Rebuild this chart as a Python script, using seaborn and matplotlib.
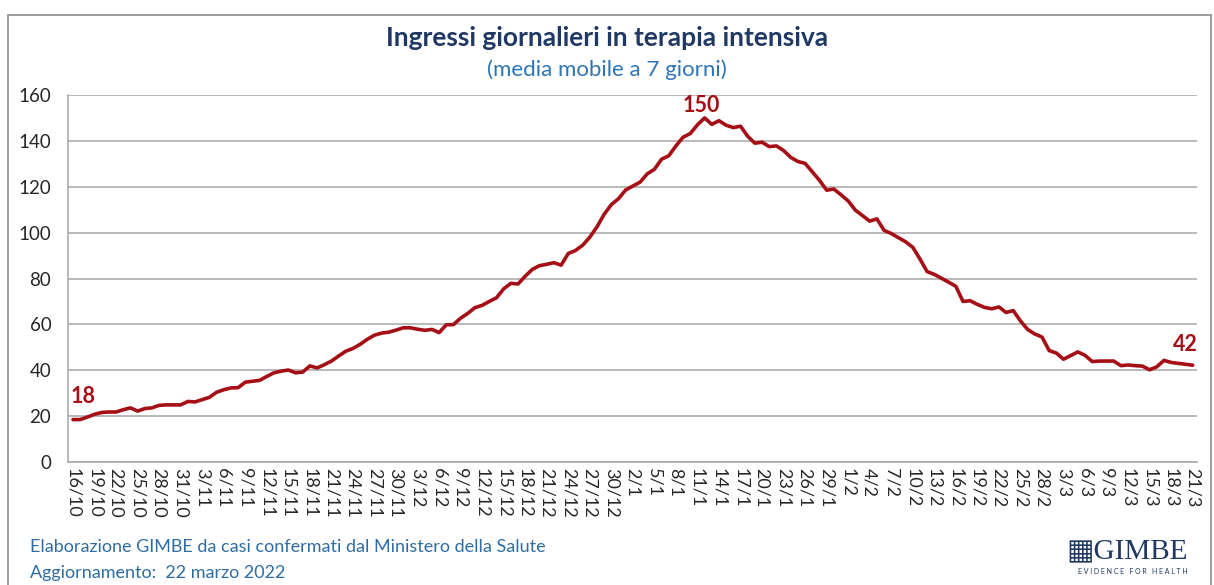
import numpy as np
import pandas as pd
import matplotlib.pyplot as plt
import seaborn as sns
from matplotlib.patches import Rectangle

# giorni dal 16/10/2021 al 21/3/2022
dates = pd.date_range("2021-10-16", "2022-03-21", freq="D")
day_labels = [f"{d.day}/{d.month}" for d in dates]

# ingressi giornalieri in terapia intensiva, media mobile 7 giorni
ingressi = [
    18.5, 18.5, 19.6, 20.8, 21.6, 21.8, 21.8, 22.8, 23.6, 22.2,
    23.3, 23.6, 24.7, 24.9, 24.9, 24.9, 26.4, 26.2, 27.2, 28.2,
    30.4, 31.5, 32.3, 32.4, 34.8, 35.2, 35.6, 37.3, 38.9, 39.6,
    40.1, 38.9, 39.2, 41.9, 41.0, 42.4, 44.0, 46.2, 48.3, 49.5,
    51.3, 53.5, 55.3, 56.2, 56.6, 57.5, 58.5, 58.5, 57.9, 57.4,
    57.8, 56.4, 59.8, 59.9, 62.7, 64.8, 67.3, 68.3, 70.0, 71.6,
    75.5, 77.9, 77.6, 81.0, 84.0, 85.6, 86.2, 86.9, 85.8, 90.9,
    92.2, 94.5, 98.0, 102.5, 108.0, 112.2, 114.8, 118.6, 120.3, 122.0,
    125.6, 127.6, 132.0, 133.5, 137.8, 141.6, 143.2, 147.0, 150.0, 147.2,
    148.8, 146.8, 145.8, 146.4, 142.0, 139.0, 139.4, 137.5, 137.8, 135.8,
    132.8, 131.0, 130.2, 126.5, 122.8, 118.5, 119.0, 116.5, 113.8, 109.8,
    107.4, 105.0, 106.0, 101.0, 99.6, 97.8, 96.0, 93.6, 88.5, 83.0,
    81.8, 80.1, 78.4, 76.6, 70.0, 70.3, 68.7, 67.4, 66.8, 67.6,
    65.2, 66.0, 61.5, 57.8, 55.8, 54.5, 48.6, 47.5, 44.8, 46.4,
    48.0, 46.5, 43.8, 44.0, 44.0, 44.0, 42.0, 42.3, 42.0, 41.8,
    40.2, 41.5, 44.3, 43.4, 43.0, 42.6, 42.2,
]

# etichette evidenziate: (indice giorno, testo)
highlights = [(0, "18"), (88, "150"), (156, "42")]

df = pd.DataFrame({"giorno": np.arange(len(ingressi)), "ingressi": ingressi})

red = "#A50F15"
sns.set_style("white")
plt.rcParams["font.family"] = ["Lato", "DejaVu Sans"]

fig = plt.figure(figsize=(12.14, 5.85), dpi=100)
ax = fig.add_axes([68 / 1214, 1 - 462 / 585, (1197 - 68) / 1214, (462 - 95) / 585])

sns.lineplot(data=df, x="giorno", y="ingressi", ax=ax, color=red, linewidth=2.6)

ax.set_ylim(0, 160)
ax.set_xlim(-0.7, 156.6)
ax.set_yticks(range(0, 161, 20))
ax.yaxis.grid(True, color="#A6A6A6", linewidth=1.1)
ax.set_axisbelow(True)
ax.tick_params(axis="y", labelsize=13.5, pad=12, length=0)
ticks = list(range(0, len(day_labels), 3))
ax.set_xticks(ticks)
ax.set_xticklabels([day_labels[i] for i in ticks], rotation=-90, fontsize=13)
ax.tick_params(axis="x", length=0, pad=4)
ax.set_xlabel("")
ax.set_ylabel("")
for s in ["top", "right"]:
    ax.spines[s].set_visible(False)
for s in ["left", "bottom"]:
    ax.spines[s].set_color("#A6A6A6")
    ax.spines[s].set_linewidth(1.1)

last = len(ingressi) - 1
for i, txt in highlights:
    if i == 0:
        ha, xo, yo = "left", -0.4, 5.5
    elif i == last:
        ha, xo, yo = "right", 0.7, 4.5
    else:
        ha, xo, yo = "center", -0.5, 0.8
    ax.text(i + xo, ingressi[i] + yo, txt, color=red, fontsize=15.5,
            fontweight="bold", ha=ha, va="bottom")

fig.text(0.5, 1 - 38 / 585, "Ingressi giornalieri in terapia intensiva",
         ha="center", va="center", fontsize=19, fontweight="bold", color="#1F3864")
fig.text(0.5, 1 - 70 / 585, "(media mobile a 7 giorni)",
         ha="center", va="center", fontsize=16, color="#2E75B6")
fig.text(30 / 1214, 1 - 547 / 585, "Elaborazione GIMBE da casi confermati dal Ministero della Salute",
         ha="left", va="center", fontsize=13, color="#2E6DA4")
fig.text(30 / 1214, 1 - 573 / 585, "Aggiornamento:  22 marzo 2022",
         ha="left", va="center", fontsize=13, color="#2E6DA4")
fig.text(1188 / 1214, 1 - 551 / 585, "\u25a6GIMBE", ha="right", va="center",
         fontsize=21, color="#1F3864", family=["Liberation Serif", "DejaVu Sans"])
fig.text(1188 / 1214, 1 - 571 / 585, "E V I D E N C E   F O R   H E A L T H", ha="right", va="center",
         fontsize=5, color="#1F3864")

fig.patches.append(Rectangle((8 / 1214, -0.05), (1211 - 8) / 1214, 1.05 - 15 / 585,
                             transform=fig.transFigure, fill=False,
                             edgecolor="#8C8C8C", linewidth=1.2))

fig.savefig("out.png", dpi=100)
